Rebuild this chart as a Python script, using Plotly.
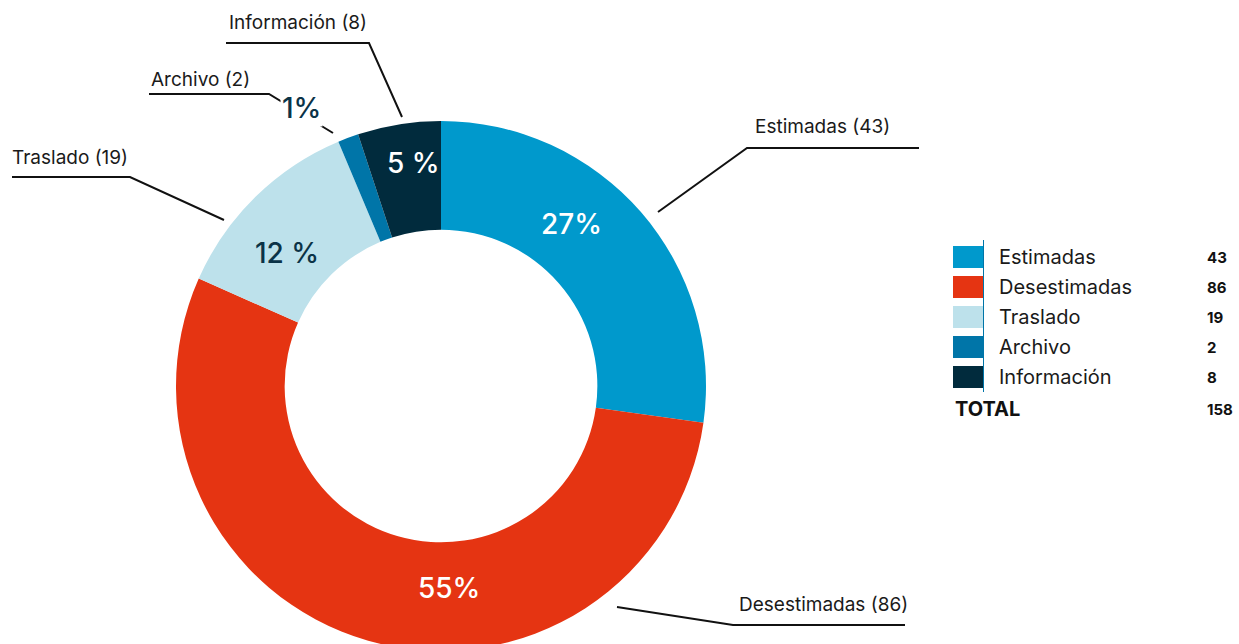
import plotly.graph_objects as go

W, H = 1239, 652  # slightly taller than the window so the ring is cut at the bottom edge

categories = ["Estimadas", "Desestimadas", "Traslado", "Archivo", "Información"]
values = [43, 86, 19, 2, 8]
pct_labels = ["27%", "55%", "12 %", "1%", "5 %"]
colors = ["#0099CC", "#E53412", "#BDE1EB", "#0075A8", "#012B3D"]
pct_colors = ["white", "white", "#0B3347", "#0B3347", "white"]
total_label = "TOTAL"

FONT = "Inter, 'Noto Sans', sans-serif"


def fx(x):
    return x / W


def fy(y):
    return 1 - y / H


# donut geometry (pixels)
CX, CY, R = 441, 386, 265

fig = go.Figure()
fig.add_trace(go.Pie(
    labels=categories,
    values=values,
    marker=dict(colors=colors, line=dict(width=0)),
    hole=0.59,
    sort=False,
    direction="clockwise",
    rotation=0,
    textinfo="none",
    hoverinfo="label+value+percent",
    showlegend=False,
    domain=dict(x=[fx(CX - R), fx(CX + R)], y=[max(0, fy(CY + R)), fy(CY - R)]),
))

shapes = []
annotations = []

# percentage labels (placement per slice, pixels)
pct_pos = [(571, 224), (449, 588), (287, 253), (301, 108), (413, 163)]
for txt, col, (x, y) in zip(pct_labels, pct_colors, pct_pos):
    annotations.append(dict(
        x=fx(x), y=fy(y), xref="paper", yref="paper", text=txt, showarrow=False,
        xanchor="center", yanchor="middle",
        font=dict(family=FONT, size=28, color=col, weight=500),
        bgcolor="white" if txt == "1%" else "rgba(0,0,0,0)",
    ))

# leader lines: polyline points (pixels) and label anchors
leaders = [
    ([(658, 212), (747, 148), (919, 148)], (753, 127)),
    ([(617, 607), (733, 625), (905, 625)], (737, 604)),
    ([(224, 220), (130, 177), (12, 177)], (10, 158)),
    ([(333, 133), (269, 94), (149, 94)], (149, 80)),
    ([(402, 117), (369, 43), (226, 43)], (227, 22)),
]
for (pts, (lx, ly)), cat, v in zip(leaders, categories, values):
    path = "M " + " L ".join(f"{fx(x)},{fy(y)}" for x, y in pts)
    shapes.append(dict(type="path", path=path, xref="paper", yref="paper",
                       line=dict(color="#111111", width=2), layer="below"))
    annotations.append(dict(
        x=fx(lx), y=fy(ly), xref="paper", yref="paper",
        text=f"{cat} ({v})", showarrow=False, xanchor="left", yanchor="middle",
        font=dict(family=FONT, size=19, color="#1a1a1a"),
    ))

# custom legend
LX0, LX1 = 953, 983
ROW0, ROWH, SQH = 257, 30, 22
for i, (cat, v, col) in enumerate(zip(categories, values, colors)):
    yc = ROW0 + i * ROWH
    shapes.append(dict(type="rect", xref="paper", yref="paper",
                       x0=fx(LX0), x1=fx(LX1), y0=fy(yc + SQH / 2), y1=fy(yc - SQH / 2),
                       fillcolor=col, line=dict(width=0)))
    annotations.append(dict(x=fx(997), y=fy(yc), xref="paper", yref="paper", text=cat,
                            showarrow=False, xanchor="left", yanchor="middle",
                            font=dict(family=FONT, size=20, color="#1a1a1a")))
    annotations.append(dict(x=fx(1205), y=fy(yc), xref="paper", yref="paper",
                            text=f"<b>{v}</b>", showarrow=False, xanchor="left",
                            yanchor="middle", font=dict(family=FONT, size=15, color="#111111")))
shapes.append(dict(type="line", xref="paper", yref="paper", x0=fx(983.5), x1=fx(983.5),
                   y0=fy(240), y1=fy(392), line=dict(color="#0075A8", width=1)))
ytot = ROW0 + len(categories) * ROWH + 2
annotations.append(dict(x=fx(953), y=fy(ytot), xref="paper", yref="paper",
                        text=f"<b>{total_label}</b>", showarrow=False, xanchor="left",
                        yanchor="middle", font=dict(family=FONT, size=20, color="#111111")))
annotations.append(dict(x=fx(1205), y=fy(ytot), xref="paper", yref="paper",
                        text=f"<b>{sum(values)}</b>", showarrow=False, xanchor="left",
                        yanchor="middle", font=dict(family=FONT, size=15, color="#111111")))

fig.update_layout(
    width=W, height=H,
    margin=dict(l=0, r=0, t=0, b=0),
    paper_bgcolor="white", plot_bgcolor="white",
    shapes=shapes, annotations=annotations,
    font=dict(family=FONT),
)

fig.write_html(
    "out.html",
    config={"displayModeBar": False},
    post_script=(
        "document.body.style.margin='0';"
        "document.body.style.overflow='hidden';"
        "document.documentElement.style.overflow='hidden';"
    ),
)
